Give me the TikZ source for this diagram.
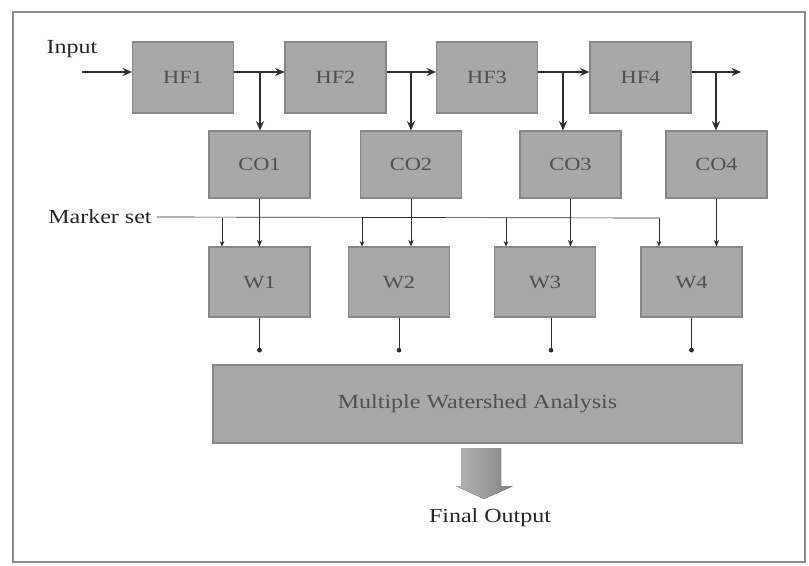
\documentclass[tikz,border=0pt]{standalone}
\usepackage{fontspec}
\setmainfont{Liberation Serif}
\usetikzlibrary{arrows.meta}
\definecolor{boxfill}{RGB}{168,168,168}
\definecolor{boxline}{RGB}{135,135,135}
\definecolor{labtext}{RGB}{80,80,80}
\definecolor{wire}{RGB}{45,45,45}
\newcommand{\wide}[1]{\scalebox{1.2}[1]{#1}}
\begin{document}
\begin{tikzpicture}[x=0.75pt,y=-0.75pt,
  blk/.style={draw=boxline,line width=0.8pt,fill=boxfill,minimum width=75.75pt,inner sep=0pt,
    font=\fontsize{14}{16}\selectfont,text=labtext},
  toprow/.style={blk,minimum height=53.25pt},
  midrow/.style={blk,minimum height=50.25pt},
  wrow/.style={blk,minimum height=52.5pt},
  thick wire/.style={draw=wire,line width=1.6pt,-{Stealth[length=7pt,width=6pt]}},
  thin wire/.style={draw=wire,line width=0.7pt,-{Stealth[length=5pt,width=4pt]}},
  mark wire/.style={draw=wire,line width=0.5pt,-{Stealth[length=4pt,width=3.5pt]}},
  dot wire/.style={draw=wire,line width=0.5pt,-{Circle[length=3.5pt]}},
  lbl/.style={font=\fontsize{15}{18}\selectfont,text=black!85,inner sep=0pt}]
\useasboundingbox (0,0) rectangle (809,565);
\draw[draw=black!45,line width=0.8pt] (13,12) rectangle (805,562);

% top row
\node[toprow] (hf1) at (183,77.5) {\wide{HF1}};
\node[toprow] (hf2) at (335.5,77.5) {\wide{HF2}};
\node[toprow] (hf3) at (487,77.5) {\wide{HF3}};
\node[toprow] (hf4) at (640.5,77.5) {\wide{HF4}};
% middle row
\node[midrow] (co1) at (259.5,164.5) {\wide{CO1}};
\node[midrow] (co2) at (411,164.5) {\wide{CO2}};
\node[midrow] (co3) at (570.5,164.5) {\wide{CO3}};
\node[midrow] (co4) at (716.5,164.5) {\wide{CO4}};
% watershed row
\node[wrow] (w1) at (259.5,282) {\wide{W1}};
\node[wrow] (w2) at (399,282) {\wide{W2}};
\node[wrow] (w3) at (545,282) {\wide{W3}};
\node[wrow] (w4) at (691.5,282) {\wide{W4}};
% analysis
\node[blk,minimum width=396.75pt,minimum height=58.5pt,font=\fontsize{15}{18}\selectfont] (mwa) at (477.5,404) {\wide{Multiple Watershed Analysis}};

% labels
\node[lbl] (inp) at (72,49) {\wide{Input}};
\node[lbl] (mk) at (100,217) {\wide{Marker set}};
\node[lbl] (fo) at (490,518) {\wide{Final Output}};

% input and chain
\coordinate (s0) at (82,72);
\coordinate (e4) at (741,72);
\draw[thick wire] (s0) -- (s0 -| hf1.west);
\draw[thick wire] (hf1.east |- s0) -- (hf2.west |- s0);
\draw[thick wire] (hf2.east |- s0) -- (hf3.west |- s0);
\draw[thick wire] (hf3.east |- s0) -- (hf4.west |- s0);
\draw[thick wire] (hf4.east |- s0) -- (e4);
% branches down
\coordinate (b1) at (260,72);
\coordinate (b2) at (411,72);
\coordinate (b3) at (563,72);
\coordinate (b4) at (716,72);
\draw[thick wire] (b1) -- (b1 |- co1.north);
\draw[thick wire] (b2) -- (b2 |- co2.north);
\draw[thick wire] (b3) -- (b3 |- co3.north);
\draw[thick wire] (b4) -- (b4 |- co4.north);
% middle to W
\draw[thin wire] (co1.south) -- (co1.south |- w1.north);
\draw[thin wire] (co2.south) -- (co2.south |- w2.north);
\draw[thin wire] (co3.south) -- (co3.south |- w3.north);
\draw[thin wire] (co4.south) -- (co4.south |- w4.north);
% marker set
\coordinate (m1) at (222,218);
\coordinate (m2) at (362,218);
\coordinate (m3) at (506,218);
\coordinate (m4) at (659,218);
\draw[draw=wire,line width=0.5pt] (mk.east) ++(5,0) -- (m4);
\draw[mark wire] (m1) -- (m1 |- w1.north);
\draw[mark wire] (m2) -- (m2 |- w2.north);
\draw[mark wire] (m3) -- (m3 |- w3.north);
\draw[mark wire] (m4) -- (m4 |- w4.north);
% W to analysis
\draw[dot wire,shorten >=9pt] (w1.south) -- (w1.south |- mwa.north);
\draw[dot wire,shorten >=9pt] (w2.south) -- (w2.south |- mwa.north);
\draw[dot wire,shorten >=9pt] ([xshift=4.5pt]w3.south) -- ([xshift=4.5pt]w3.south |- mwa.north);
\draw[dot wire,shorten >=9pt] (w4.south) -- (w4.south |- mwa.north);

% block arrow to output
\fill[left color=black!30,right color=black!50,middle color=black!38]
  (461,448) -- (501,448) -- (501,486) -- (513,486) -- (484,499) -- (456,486) -- (461,486) -- cycle;
\end{tikzpicture}
\end{document}
